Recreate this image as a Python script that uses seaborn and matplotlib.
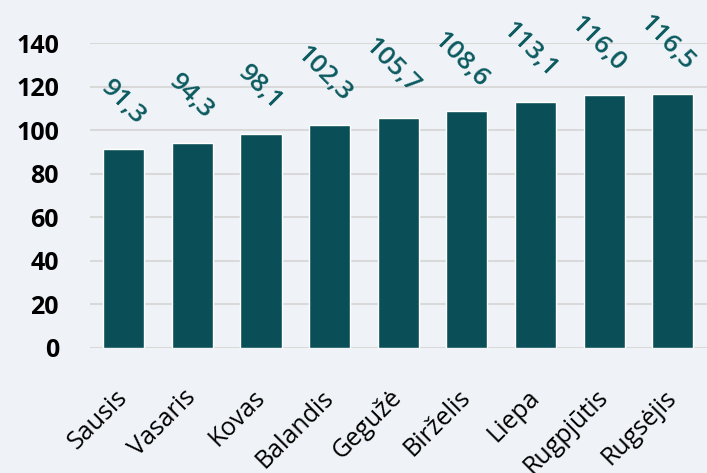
import numpy as np
import pandas as pd
import seaborn as sns
from matplotlib import pyplot as plt

months = ["Sausis", "Vasaris", "Kovas", "Balandis", "Gegužė", "Birželis",
          "Liepa", "Rugpjūtis", "Rugsėjis"]
values = [91.3, 94.3, 98.1, 102.3, 105.7, 108.6, 113.1, 116.0, 116.5]
yticks = [0, 20, 40, 60, 80, 100, 120, 140]

bg = "#eff3f7"
bar_color = "#0a4f57"
label_color = "#0b5a5f"

sns.set_theme(style="white")
plt.rcParams["font.family"] = ["Open Sans", "DejaVu Sans"]

df = pd.DataFrame({"month": months, "value": values})

fig = plt.figure(figsize=(7.07, 4.73), dpi=100, facecolor=bg)
ax = fig.add_axes([0.1266, 0.2643, 0.8734, 0.6447])
ax.set_facecolor(bg)

sns.barplot(data=df, x="month", y="value", color=bar_color, saturation=1,
            width=0.6, ax=ax, zorder=3)

ax.set_ylim(0, 140)
ax.set_xlim(-0.5, len(months) - 0.5)
ax.set_yticks(yticks)
ax.set_yticklabels([str(t) for t in yticks], fontsize=18, fontweight="bold",
                   color="black")
ax.yaxis.grid(True, color="#d9d9d9", linewidth=1.5, zorder=0)
ax.set_xlabel("")
ax.set_ylabel("")
for s in ax.spines.values():
    s.set_visible(False)
ax.tick_params(axis="y", length=0, pad=22)
ax.tick_params(axis="x", length=0, pad=33)

ax.set_xticks(range(len(months)))
ax.set_xticklabels(months, rotation=45, ha="right", va="center",
                   rotation_mode="anchor", fontsize=18, color="black")

for i, v in enumerate(values):
    txt = f"{v:.1f}".replace(".", ",")
    ax.annotate(txt, xy=(i, v), xytext=(12.5, 20), textcoords="offset points",
                rotation=-45, rotation_mode="anchor", ha="right", va="center",
                fontsize=19, fontweight="semibold", color=label_color,
                annotation_clip=False, clip_on=False)

fig.savefig("out.png", dpi=100, facecolor=bg)
